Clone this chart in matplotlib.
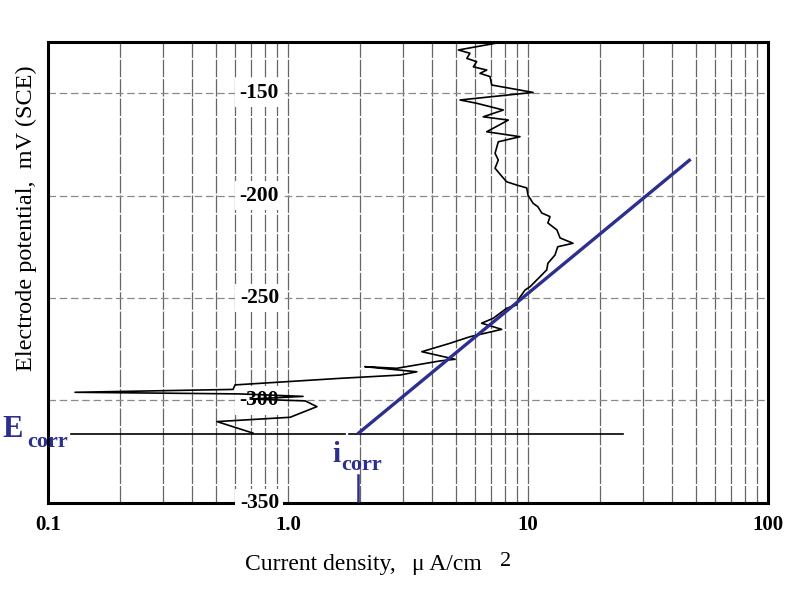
import matplotlib
matplotlib.use('Agg')
import matplotlib.pyplot as plt
from matplotlib.ticker import LogLocator, NullFormatter

# ---------------- data ----------------
current = [0.714, 0.506, 1.02, 1.32, 1.18, 0.695, 1.155, 0.631, 0.1296, 0.590,
           0.602, 1.646, 2.93, 3.44, 2.09, 2.84, 4.30, 4.97, 3.61, 4.73,
           5.73, 7.77, 6.41, 7.16, 8.15, 8.97, 9.08, 9.72, 10.2, 11.97,
           12.1, 12.96, 13.3, 15.4, 13.6, 13.2, 12.1, 12.35, 11.4, 11.0,
           10.5, 10.0, 9.88, 8.97, 8.15, 7.80, 7.29, 7.52, 7.29, 7.52,
           9.26, 6.73, 8.28, 6.51, 7.89, 6.11, 5.21, 10.5, 7.06, 6.95,
           6.31, 6.73, 5.92, 6.11, 5.56, 5.73, 5.13, 8.28]
potential = [-315.9, -310.3, -308.2, -303.0, -300.2, -299.3, -298.0, -296.8, -296.0, -294.6,
             -292.4, -289.2, -287.6, -286.0, -283.5, -284.3, -280.7, -279.9, -276.2, -272.1,
             -268.9, -265.3, -262.3, -259.9, -255.0, -253.4, -251.0, -246.1, -244.5, -236.3,
             -233.1, -229.0, -225.0, -223.3, -220.7, -216.8, -213.4, -210.3, -208.5, -205.5,
             -203.8, -199.8, -196.3, -194.9, -193.3, -190.8, -186.7, -182.7, -179.4, -173.8,
             -171.3, -168.9, -163.2, -161.6, -158.3, -155.0, -153.4, -149.7, -146.1, -142.0,
             -140.4, -138.8, -137.2, -134.7, -133.1, -130.6, -129.0, -124.6]

e_corr = -316.3
e_corr_line_x1 = [0.125, 1.73]
e_corr_line_x2 = [1.79, 24.9]
i_corr = 1.95
tafel_x = [i_corr, 47.6]
tafel_y = [e_corr, -182.3]
icorr_tick_y = [-336.3, -348.8]

y_ticks = [-150, -200, -250, -300, -350]
y_tick_labels = ['-150', '-200', '-250', '-300', '-350']
x_ticks = [0.1, 1.0, 10, 100]
x_tick_labels = ['0.1', '1.0', '10', '100']

blue = '#2d2f8f'
serif = 'Liberation Serif'

# ---------------- figure ----------------
fig = plt.figure(figsize=(8, 5.9), dpi=100)
ax = fig.add_axes([0.06, 0.1475, 0.90, 0.7817])
ax.set_xscale('log')
ax.set_xlim(0.1, 100)
ax.set_ylim(-350, -125)

ax.set_xticks(x_ticks)
ax.set_xticklabels(x_tick_labels, fontfamily=serif, fontweight='bold', fontsize=15)
ax.xaxis.set_minor_locator(LogLocator(base=10, subs=range(2, 10)))
ax.xaxis.set_minor_formatter(NullFormatter())
ax.set_yticks([-300, -250, -200, -150])
ax.set_yticklabels([])
ax.tick_params(axis='both', which='both', length=0)
ax.tick_params(axis='x', pad=9)

vstyle = dict(color='#666666', linewidth=0.9, linestyle=(0, (14, 1.5)))
hstyle = dict(color='#8a8a8a', linewidth=0.9, linestyle=(0, (6, 3)))
ax.grid(True, which='major', axis='x', **vstyle)
ax.grid(True, which='minor', axis='x', **vstyle)
ax.grid(True, which='major', axis='y', **hstyle)
ax.set_axisbelow(True)

for s in ax.spines.values():
    s.set_linewidth(2.2)
    s.set_color('black')

# y tick labels drawn inside the plot
for yv, lab in zip(y_ticks, y_tick_labels):
    ax.text(0.76, yv, lab, ha='center', va='center', fontfamily=serif,
            fontweight='bold', fontsize=15.5, zorder=3, clip_on=False,
            bbox=dict(boxstyle='square,pad=0.2', fc='white', ec='none'))

# polarization curve
ax.plot(current, potential, color='black', lw=1.2, zorder=4)
# Ecorr line
ax.plot(e_corr_line_x1, [e_corr, e_corr], color='black', lw=1.2, zorder=4)
ax.plot(e_corr_line_x2, [e_corr, e_corr], color='black', lw=1.2, zorder=4)
# Tafel line
ax.plot(tafel_x, tafel_y, color=blue, lw=2.4, zorder=5, solid_capstyle='butt')
ax.plot([i_corr, i_corr], icorr_tick_y, color=blue, lw=1.8, zorder=5, clip_on=False)

# labels
fig.text(0.003, 1 - 437 / 590, 'E', color=blue, fontfamily=serif, fontweight='bold',
         fontsize=22, ha='left', va='baseline')
fig.text(0.034, 1 - 447 / 590, 'corr', color=blue, fontfamily=serif, fontweight='bold',
         fontsize=16, ha='left', va='baseline')
fig.text(332 / 800, 1 - 462 / 590, 'i', color=blue, fontfamily=serif, fontweight='bold',
         fontsize=21, ha='left', va='baseline')
fig.text(341 / 800, 1 - 470 / 590, 'corr', color=blue, fontfamily=serif, fontweight='bold',
         fontsize=16, ha='left', va='baseline')

fig.text(245 / 800, 1 - 570 / 590, 'Current density,', fontfamily=serif,
         fontsize=17, ha='left', va='baseline')
fig.text(412 / 800, 1 - 570 / 590, '\u03bc A/cm', fontfamily=serif,
         fontsize=17, ha='left', va='baseline')
fig.text(500 / 800, 1 - 566 / 590, '2', fontfamily=serif, fontsize=16,
         ha='left', va='baseline')
fig.text(26 / 800, 1 - 218 / 590, 'Electrode potential,  mV (SCE)', fontfamily=serif,
         fontsize=17.5, rotation=90, ha='center', va='center')

fig.savefig('out.png', dpi=100, facecolor='white')
